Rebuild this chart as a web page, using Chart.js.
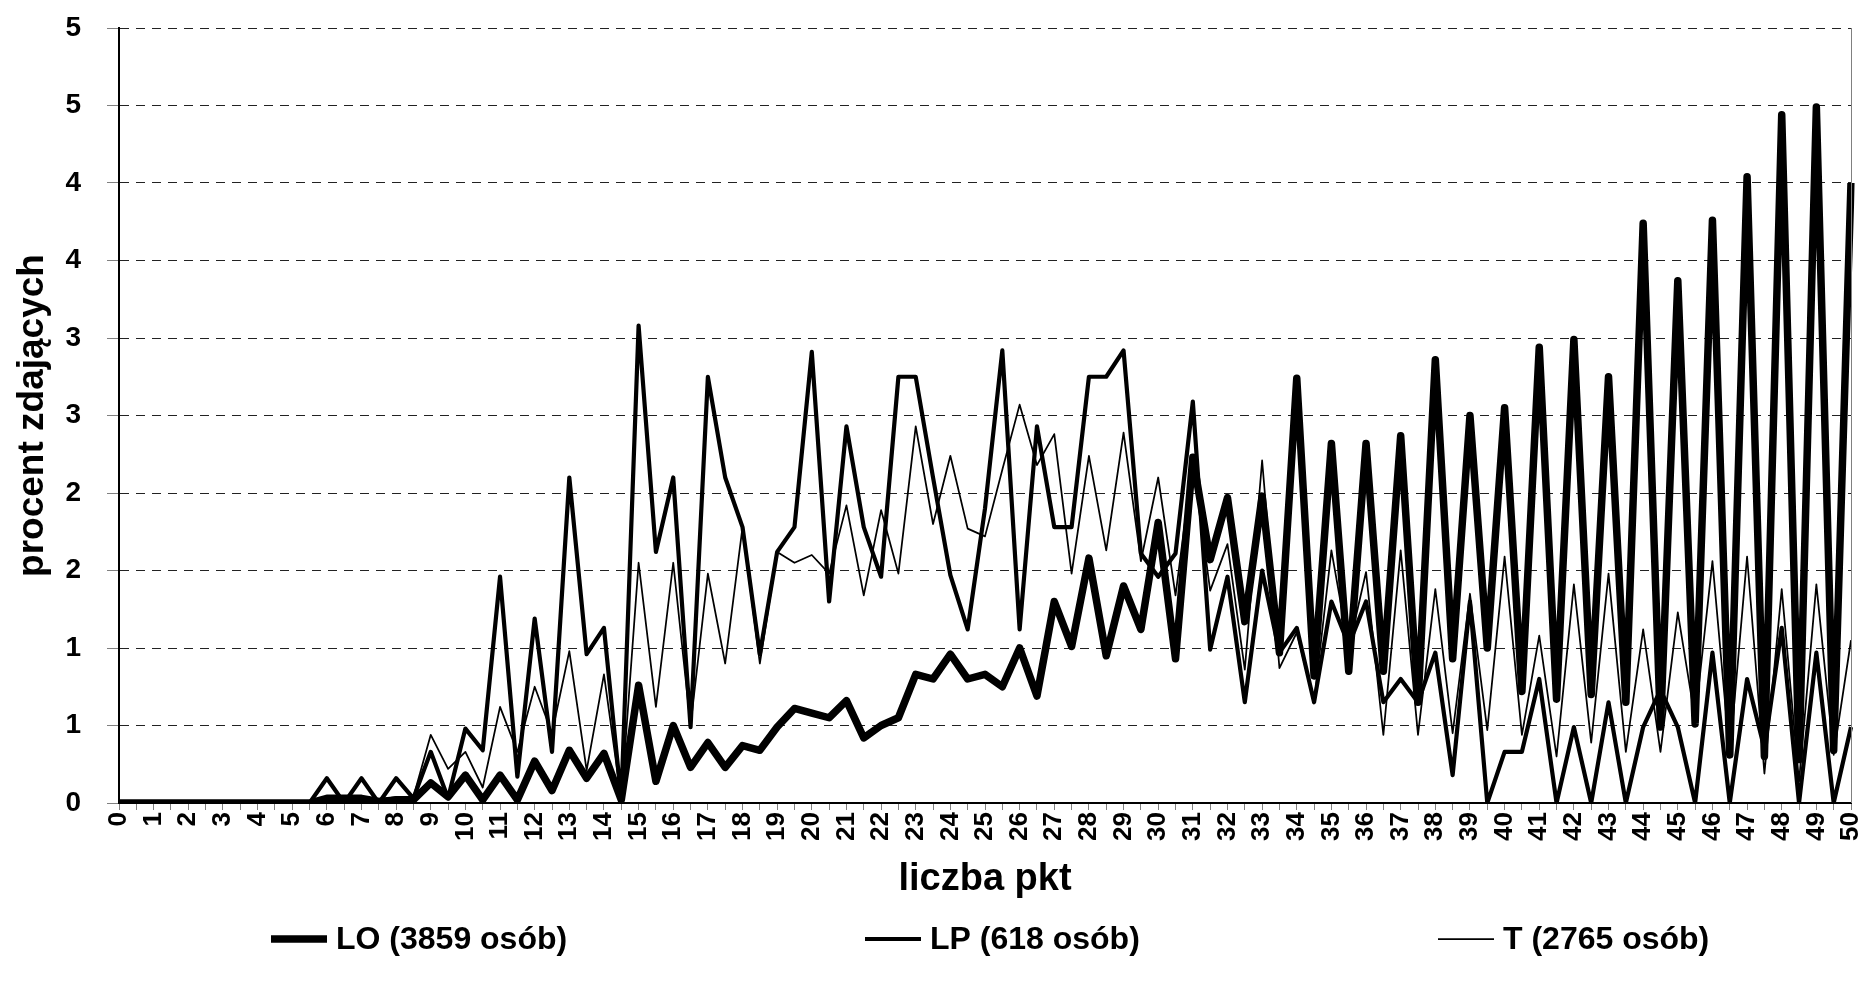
<!DOCTYPE html>
<html>
<head>
<meta charset="utf-8">
<script src="https://cdn.jsdelivr.net/npm/chart.js@4.4.0/dist/chart.umd.min.js"></script>
<style>
html,body{margin:0;padding:0;background:#fff;}
#wrap{width:1863px;height:991px;position:relative;}
canvas{display:block;}
</style>
</head>
<body>
<div id="wrap"><canvas id="c"></canvas></div>
<script>
// ---- data ----
const xLabels = ["0","0.5","1","1.5","2","2.5","3","3.5","4","4.5","5","5.5","6","6.5","7","7.5","8","8.5","9","9.5",
"10","10.5","11","11.5","12","12.5","13","13.5","14","14.5","15","15.5","16","16.5","17","17.5","18","18.5","19","19.5",
"20","20.5","21","21.5","22","22.5","23","23.5","24","24.5","25","25.5","26","26.5","27","27.5","28","28.5","29","29.5",
"30","30.5","31","31.5","32","32.5","33","33.5","34","34.5","35","35.5","36","36.5","37","37.5","38","38.5","39","39.5",
"40","40.5","41","41.5","42","42.5","43","43.5","44","44.5","45","45.5","46","46.5","47","47.5","48","48.5","49","49.5","50"];

const loValues = [0,0,0,0,0,0,0,0,0,0,0,0,
0.03,0.03,0.03,0.01,0.02,0.02,
0.13,0.04,0.18,0.02,0.18,0.02,0.27,0.08,0.34,0.16,0.32,0.02,
0.76,0.14,0.50,0.23,0.39,0.23,0.37,0.34,0.49,0.61,
0.58,0.55,0.66,0.42,0.50,0.55,0.83,0.80,0.96,0.80,
0.83,0.75,1.00,0.69,1.30,1.01,1.58,0.95,1.40,1.12,
1.81,0.93,2.23,1.57,1.97,1.17,1.98,0.97,2.74,0.82,
2.32,0.85,2.32,0.85,2.37,0.65,2.86,0.93,2.50,1.00,
2.55,0.72,2.94,0.67,2.99,0.70,2.75,0.65,3.74,0.49,
3.37,0.51,3.76,0.31,4.04,0.30,4.44,0.28,4.49,0.34,4.00];

const lpValues = [0,0,0,0,0,0,0,0,0,0,0,0,
0.16,0,0.16,0,0.16,0.03,
0.33,0.03,0.48,0.34,1.46,0.17,1.19,0.33,2.10,0.96,1.13,0.02,
3.08,1.62,2.10,0.49,2.75,2.10,1.78,0.96,1.62,1.78,
2.91,1.30,2.43,1.78,1.46,2.75,2.75,2.10,1.47,1.12,
1.90,2.92,1.12,2.43,1.78,1.78,2.75,2.75,2.92,1.61,
1.46,1.61,2.59,0.99,1.46,0.65,1.50,0.97,1.13,0.65,
1.30,1.02,1.30,0.65,0.80,0.65,0.97,0.18,1.30,0,
0.33,0.33,0.80,0,0.49,0,0.65,0,0.49,0.73,
0.49,0,0.97,0,0.80,0.35,1.13,0,0.97,0,0.49];

const tValues = [0,0,0,0,0,0,0,0,0,0,0,0,
0.04,0.04,0.04,0.02,0.04,0.04,
0.44,0.22,0.33,0.10,0.62,0.33,0.75,0.45,0.98,0.21,0.83,0.02,
1.55,0.62,1.55,0.50,1.48,0.90,1.78,0.90,1.62,1.55,
1.60,1.48,1.92,1.34,1.89,1.48,2.43,1.80,2.24,1.77,
1.72,2.15,2.57,2.18,2.38,1.48,2.24,1.63,2.39,1.56,
2.10,1.34,2.21,1.37,1.67,0.86,2.21,0.87,1.10,0.65,
1.63,1.00,1.49,0.44,1.63,0.44,1.38,0.45,1.35,0.47,
1.59,0.44,1.08,0.30,1.41,0.39,1.48,0.33,1.12,0.33,
1.23,0.54,1.56,0.31,1.59,0.19,1.38,0.14,1.41,0.31,1.05];

const seriesNames = ["LO (3859 osób)", "LP (618 osób)", "T (2765 osób)"];
const yTickLabels = ["0","1","1","2","2","3","3","4","4","5","5"];
const xTitle = "liczba pkt";
const yTitle = "procent zdających";

// ---- styles ----
const FONT = "'Liberation Sans', Arial, sans-serif";

const legendPlugin = {
  id: 'xlLegend',
  afterDraw(chart) {
    const ctx = chart.ctx;
    const starts = [271, 865, 1438];
    const y = 939;
    ctx.save();
    ctx.font = "bold 32px " + FONT;
    ctx.textBaseline = 'middle';
    ctx.fillStyle = '#000';
    chart.data.datasets.forEach((ds, i) => {
      const x0 = starts[i];
      ctx.beginPath();
      ctx.lineWidth = ds.borderWidth;
      ctx.strokeStyle = ds.borderColor;
      ctx.lineCap = 'butt';
      ctx.moveTo(x0, y);
      ctx.lineTo(x0 + 56, y);
      ctx.stroke();
      ctx.fillText(ds.label, x0 + 65, y + 1);
    });
    ctx.restore();
  }
};

const framePlugin = {
  id: 'frame',
  afterDatasetsDraw(chart) {
    const {ctx, chartArea} = chart;
    ctx.save();
    ctx.strokeStyle = '#808080';
    ctx.lineWidth = 1;
    ctx.beginPath();
    ctx.moveTo(Math.round(chartArea.right) + 0.5, chartArea.top);
    ctx.lineTo(Math.round(chartArea.right) + 0.5, chartArea.bottom);
    ctx.stroke();
    ctx.restore();
  }
};

const canvas = document.getElementById('c');
canvas.width = 1863; canvas.height = 991;
canvas.style.width = '1863px'; canvas.style.height = '991px';

new Chart(canvas, {
  type: 'line',
  data: {
    labels: xLabels,
    datasets: [
      {label: seriesNames[0], data: loValues, borderColor: '#000', backgroundColor: '#000', borderWidth: 7.5, pointRadius: 0, tension: 0, borderJoinStyle: 'round', fill: false, order: 1},
      {label: seriesNames[1], data: lpValues, borderColor: '#000', backgroundColor: '#000', borderWidth: 4.2, pointRadius: 0, tension: 0, borderJoinStyle: 'round', fill: false, order: 2},
      {label: seriesNames[2], data: tValues, borderColor: '#000', backgroundColor: '#000', borderWidth: 1.75, pointRadius: 0, tension: 0, borderJoinStyle: 'round', fill: false, order: 3}
    ]
  },
  options: {
    responsive: false,
    animation: false,
    devicePixelRatio: 1,
    layout: {padding: {left: 0, right: 12, top: 28, bottom: 0}},
    plugins: {
      legend: {display: false},
      tooltip: {enabled: false}
    },
    scales: {
      x: {
        type: 'category',
        offset: false,
        grid: {display: true, drawOnChartArea: false, drawTicks: true, tickLength: 7, tickColor: '#808080', tickWidth: 1},
        border: {display: true, color: '#000', width: 2},
        ticks: {
          autoSkip: false, maxRotation: 90, minRotation: 90, padding: 2,
          color: '#000', font: {family: FONT, size: 26, weight: 'bold'},
          callback: function(val, idx) {
            const l = xLabels[idx];
            return Number.isInteger(parseFloat(l)) ? l : '';
          }
        },
        title: {display: true, text: xTitle, color: '#000', font: {family: FONT, size: 38, weight: 'bold'}, padding: {top: 0, bottom: 89}},
        afterFit(scale) { scale.height = 188; scale.paddingLeft = 0; scale.paddingRight = 0; }
      },
      y: {
        min: 0, max: 5,
        ticks: {
          stepSize: 0.5, color: '#000', padding: 26,
          font: {family: FONT, size: 28, weight: 'bold'},
          callback: function(val, idx) { return yTickLabels[idx]; }
        },
        grid: {color: '#222', lineWidth: 1, drawTicks: true, tickLength: 12, tickColor: '#808080', tickBorderDash: []},
        border: {display: true, color: '#000', width: 2, dash: [9, 7]},
        title: {display: true, text: yTitle, color: '#000', font: {family: FONT, size: 37, weight: 'bold'}, padding: {top: 11, bottom: 0}},
        afterFit(scale) { scale.width = 119; scale.paddingTop = 0; scale.paddingBottom = 0; }
      }
    }
  },
  plugins: [legendPlugin, framePlugin]
});
</script>
</body>
</html>
